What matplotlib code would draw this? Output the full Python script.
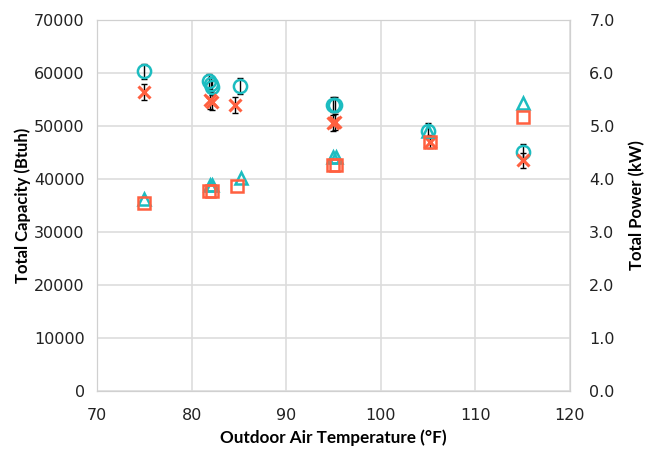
import matplotlib.pyplot as plt
import numpy as np

plt.rcParams['font.family'] = ['Lato', 'DejaVu Sans']

TEAL = '#1cbcc0'
ORANGE = '#ff6040'

# Total capacity, measured (circles) and second set (crosses), Btuh
cap_o_temp = [75.0, 81.8, 82.0, 82.2, 85.1, 94.9, 95.2, 105.0, 115.0]
cap_o = [60300, 58400, 57900, 57300, 57500, 54000, 54000, 49100, 45100]
cap_o_err = [1400, 1400, 1400, 1400, 1500, 1400, 1400, 1400, 1400]

cap_x_temp = [75.0, 81.9, 82.1, 84.6, 94.9, 95.2, 105.2, 115.0]
cap_x = [56300, 54800, 54500, 53900, 50600, 50800, 47000, 43500]
cap_x_err = [1500, 1600, 1600, 1500, 1500, 1500, 1200, 1400]

# Total power, kW (right axis)
pow_tri_temp = [75.0, 81.9, 82.2, 85.2, 95.0, 95.3, 105.0, 115.0]
pow_tri = [3.62, 3.88, 3.88, 4.02, 4.42, 4.42, 4.90, 5.44]

pow_sq_temp = [75.0, 81.8, 82.1, 84.8, 94.9, 95.3, 105.2, 115.0]
pow_sq = [3.55, 3.77, 3.77, 3.86, 4.26, 4.26, 4.70, 5.17]

fig = plt.figure(figsize=(6.52, 4.49), dpi=100)
ax = fig.add_axes([0.149, 0.129, 0.725, 0.827])
ax2 = ax.twinx()

ax.errorbar(cap_o_temp, cap_o, yerr=cap_o_err, fmt='none', ecolor='black',
            elinewidth=1, capsize=2, zorder=3)
ax.errorbar(cap_x_temp, cap_x, yerr=cap_x_err, fmt='none', ecolor='black',
            elinewidth=1, capsize=2, zorder=3)
ax.plot(cap_o_temp, cap_o, 'o', mfc='none', mec=TEAL, mew=1.8, ms=9.5, zorder=4)
ax.plot(cap_x_temp, cap_x, 'x', color=ORANGE, mew=2.2, ms=9, zorder=4)

ax2.plot(pow_tri_temp, pow_tri, '^', mfc='none', mec=TEAL, mew=1.8, ms=8, zorder=4)
ax2.plot(pow_sq_temp, pow_sq, 's', mfc='none', mec=ORANGE, mew=1.8, ms=8, zorder=4)

ax.set_xlim(70, 120)
ax.set_ylim(0, 70000)
ax2.set_ylim(0, 7)
ax.set_xticks(np.arange(70, 121, 10))
ax.set_yticks(np.arange(0, 70001, 10000))
ax2.set_yticks(np.arange(0, 7.01, 1))
ax2.set_yticklabels([f'{v:.1f}' for v in np.arange(0, 7.01, 1)])

ax.grid(True, color='#dddddd', linewidth=1.2)
ax.set_axisbelow(True)
for a in (ax, ax2):
    for s in a.spines.values():
        s.set_color('#d0d0d0')
    a.tick_params(length=0, colors='#222222')
    for lbl in a.get_xticklabels() + a.get_yticklabels():
        lbl.set_fontfamily('DejaVu Sans')
        lbl.set_fontsize(11.5)
ax.tick_params(axis='x', pad=12)
ax.tick_params(axis='y', pad=9)
ax2.tick_params(axis='y', pad=14)

ax.set_xlabel('Outdoor Air Temperature (°F)', fontsize=12.3, fontweight='bold', labelpad=5)
ax.set_ylabel('Total Capacity (Btuh)', fontsize=12, fontweight='bold', labelpad=2)
ax2.set_ylabel('Total Power (kW)', fontsize=12, fontweight='bold', labelpad=10)

fig.savefig('out.png', dpi=100)
